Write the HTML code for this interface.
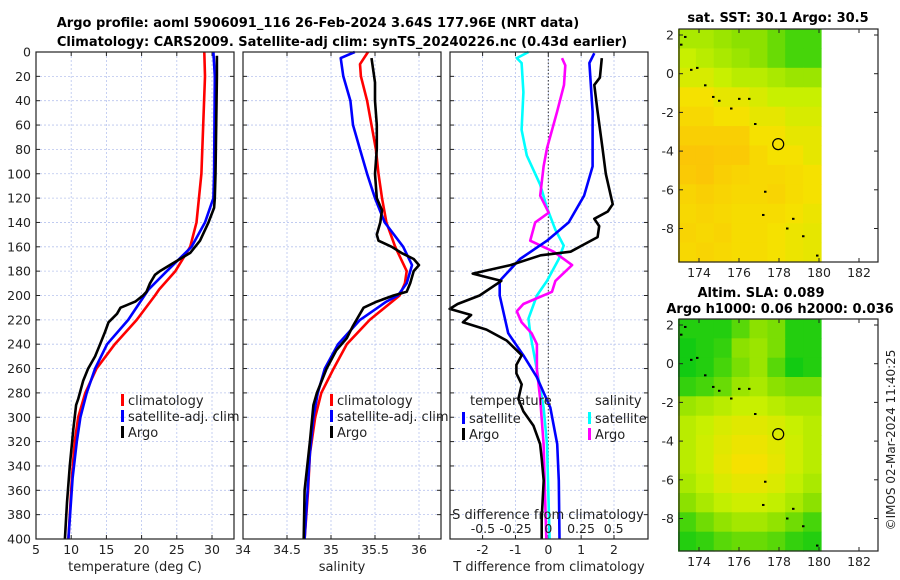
<!DOCTYPE html>
<html><head><meta charset="utf-8">
<style>
html,body{margin:0;padding:0;background:#fff;}
svg{display:block;font-family:"DejaVu Sans","Liberation Sans",sans-serif;}
</style></head>
<body>
<svg id="fig" width="900" height="580" viewBox="0 0 900 580" xmlns="http://www.w3.org/2000/svg">
<text x="318" y="27" font-size="13" font-weight="bold" text-anchor="middle">Argo profile: aoml 5906091_116 26-Feb-2024 3.64S 177.96E (NRT data)</text>
<text x="342" y="46" font-size="13" font-weight="bold" text-anchor="middle">Climatology: CARS2009. Satellite-adj clim: synTS_20240226.nc (0.43d earlier)</text>
<text x="778" y="22" font-size="13" font-weight="bold" text-anchor="middle">sat. SST: 30.1 Argo: 30.5</text>
<text x="761" y="297" font-size="13" font-weight="bold" text-anchor="middle">Altim. SLA: 0.089</text>
<text x="780" y="313" font-size="13" font-weight="bold" text-anchor="middle">Argo h1000: 0.06 h2000: 0.036</text>
<text x="0" y="0" font-size="12" fill="#222" text-anchor="middle" transform="translate(895,440) rotate(-90)">©IMOS 02-Mar-2024 11:40:25</text>
</svg>
<script>
// ---- data ----
const depthTicks=[0,20,40,60,80,100,120,140,160,180,200,220,240,260,280,300,320,340,360,380,400];
const tempTicks=[5,10,15,20,25,30];
const salTicks=[34,34.5,35,35.5,36];
const salTickLabels=["34","34.5","35","35.5","36"];
const tdiffTicks=[-2,-1,0,1,2];
const sdiffTicks=[-0.5,-0.25,0,0.25,0.5];
const sdiffTickLabels=["-0.5","-0.25","0","0.25","0.5"];

const tClimDepth=[0,20,100,140,160,180,195,200,220,240,260,280,300,320,350,400];
const tClimVal=[28.9,29.0,28.5,27.8,26.9,24.8,22.5,21.9,19.3,16.2,13.6,12.0,11.0,10.5,10.1,9.6];
const tSatDepth=[0,20,100,120,140,160,180,195,220,240,260,280,300,320,350,400];
const tSatVal=[30.2,30.4,30.3,30.2,29.0,27.1,23.6,21.0,18.1,15.1,13.4,12.2,11.3,10.8,10.2,9.6];
const tArgoDepth=[3,20,100,120,128,140,155,165,175,180,183,190,197,200,205,210,215,222,230,240,250,260,270,285,290,310,340,370,400];
const tArgoVal=[30.7,30.7,30.5,30.4,30.3,29.5,28.3,26.9,24.0,22.6,21.9,21.2,20.7,20.2,19.1,17.0,16.5,15.3,14.8,14.1,13.4,12.4,11.7,11.0,10.7,10.3,9.8,9.4,9.1];

const sClimDepth=[0,10,20,40,60,80,100,120,140,160,180,190,200,220,240,260,280,300,330,360,400];
const sClimVal=[35.42,35.33,35.34,35.41,35.46,35.51,35.54,35.58,35.63,35.73,35.86,35.84,35.78,35.44,35.18,35.03,34.89,34.82,34.76,34.74,34.70];
const sSatDepth=[0,5,20,40,60,80,100,120,140,160,175,190,200,205,220,240,260,280,300,330,400];
const sSatVal=[35.27,35.11,35.14,35.22,35.25,35.33,35.41,35.50,35.61,35.82,35.92,35.86,35.76,35.63,35.33,35.08,34.93,34.85,34.80,34.76,34.70];
const sArgoDepth=[5,25,40,60,80,100,120,130,140,150,155,160,165,170,175,180,190,197,200,205,210,215,225,235,245,260,280,290,320,360,400];
const sArgoVal=[35.46,35.50,35.50,35.52,35.52,35.50,35.52,35.58,35.56,35.52,35.54,35.69,35.80,35.94,36.0,35.94,35.90,35.86,35.71,35.52,35.37,35.33,35.25,35.18,35.06,34.95,34.84,34.80,34.76,34.70,34.69];

const dtArgoDepth=[5,21,27,49,79,100,125,131,137,143,152,158,164,167,175,182,188,200,207,211,216,222,228,237,249,257,264,273,285,295,307,322,334,352,383,400];
const dtArgoVal=[1.63,1.57,1.4,1.5,1.65,1.75,1.96,1.81,1.4,1.55,1.5,1.09,0.68,-0.23,-1.15,-2.3,-1.43,-2.09,-2.76,-3.0,-2.35,-2.6,-1.88,-1.27,-0.81,-0.97,-0.97,-0.81,-0.91,-0.76,-0.45,-0.25,-0.2,-0.14,-0.2,-0.2];
const dtSatDepth=[1,9,49,94,118,140,155,170,188,200,231,249,267,292,322,352,400];
const dtSatVal=[1.40,1.25,1.35,1.35,1.09,0.62,-0.04,-0.86,-1.48,-1.48,-1.22,-0.76,-0.35,0.06,0.27,0.32,0.34];
const dsSatDepth=[0,5,9,33,64,85,109,128,146,159,170,188,200,219,231,261,292,322,400];
const dsSatVal=[-0.151,-0.241,-0.204,-0.19,-0.204,-0.164,-0.062,-0.01,0.054,0.118,0.08,-0.01,-0.087,-0.151,-0.138,-0.087,-0.036,-0.01,0.01];
const dsArgoDepth=[5,11,27,49,79,94,118,132,140,155,164,175,188,197,207,213,222,231,240,261,285,322,400];
const dsArgoVal=[0.105,0.13,0.12,0.067,-0.01,-0.036,-0.062,0.003,-0.1,-0.138,0.041,0.182,0.054,0.028,-0.19,-0.241,-0.204,-0.128,-0.087,-0.087,-0.062,-0.036,-0.015];

const lonTicks=[174,176,178,180,182];
const latTicks=[2,0,-2,-4,-6,-8];
const sstGrid=[
[0.5,0.5,0.45,0.4,0.4,0.3,0.2,0.2],
[0.6,0.55,0.5,0.45,0.4,0.3,0.2,0.2],
[0.65,0.65,0.6,0.55,0.55,0.5,0.45,0.45],
[0.75,0.75,0.7,0.7,0.65,0.6,0.6,0.6],
[0.8,0.8,0.75,0.75,0.7,0.7,0.65,0.65],
[0.85,0.85,0.85,0.85,0.75,0.75,0.7,0.7],
[0.9,0.9,0.88,0.88,0.8,0.75,0.75,0.7],
[0.88,0.9,0.85,0.82,0.8,0.8,0.78,0.75],
[0.82,0.85,0.82,0.8,0.8,0.82,0.78,0.75],
[0.8,0.82,0.8,0.78,0.78,0.78,0.75,0.72],
[0.82,0.8,0.82,0.78,0.78,0.75,0.72,0.7],
[0.8,0.82,0.8,0.78,0.78,0.75,0.72,0.7]];
const slaGrid=[
[0.1,0.1,0.1,0.25,0.4,0.35,0.1,0.1],
[0.05,0.1,0.15,0.4,0.45,0.35,0.1,0.1],
[0.05,0.1,0.2,0.35,0.45,0.25,0.05,0.1],
[0.15,0.2,0.3,0.45,0.5,0.4,0.35,0.35],
[0.45,0.5,0.55,0.6,0.6,0.55,0.5,0.5],
[0.55,0.6,0.65,0.68,0.68,0.65,0.6,0.55],
[0.55,0.62,0.68,0.72,0.72,0.68,0.62,0.55],
[0.55,0.62,0.7,0.75,0.75,0.7,0.62,0.55],
[0.5,0.58,0.66,0.7,0.7,0.66,0.58,0.5],
[0.4,0.5,0.58,0.62,0.62,0.58,0.5,0.4],
[0.2,0.32,0.42,0.48,0.48,0.42,0.32,0.2],
[0.1,0.15,0.25,0.3,0.3,0.25,0.15,0.1]];
const islandLon=[173.1,173.3,173.6,173.9,174.3,174.7,175.0,175.6,176.0,176.5,176.8,177.3,177.2,178.4,178.7,179.2,179.9];
const islandLat=[1.5,1.9,0.2,0.3,-0.6,-1.2,-1.4,-1.8,-1.3,-1.3,-2.6,-6.1,-7.3,-8.0,-7.5,-8.4,-9.4];
const argoLon=[177.96];
const argoLat=[-3.64];

// ---- drawing ----
const NS="http://www.w3.org/2000/svg";
const svg=document.getElementById('fig');
function mk(tag,attrs,parent){const e=document.createElementNS(NS,tag);for(const k in attrs)e.setAttribute(k,attrs[k]);(parent||svg).appendChild(e);return e;}
const TOP=52,BOT=539;
const yDepth=d=>TOP+d*(BOT-TOP)/400;
function xLin(v0,v1,p0,p1){return v=>p0+(v-v0)*(p1-p0)/(v1-v0);}

const panels=[
 {x0:36,x1:234,sx:xLin(5,30,36,212),ticks:tempTicks,labels:tempTicks.map(String),xlabel:"temperature (deg C)",name:"temperature-panel",ylabels:true},
 {x0:243,x1:441,sx:xLin(34,36,243,419),ticks:salTicks,labels:salTickLabels,xlabel:"salinity",name:"salinity-panel"},
 {x0:450,x1:648,sx:xLin(0,2,548.3,614),ticks:tdiffTicks,labels:tdiffTicks.map(String),xlabel:"T difference from climatology",name:"difference-panel"}
];
panels.forEach(p=>{
 const g=mk('g',{});
 
 
 p.ticks.forEach(t=>{const x=p.sx(t);if(x>p.x0+1&&x<p.x1-1){const l=mk('line',{x1:x,x2:x,y1:TOP,y2:BOT,stroke:'#b8c4ee','stroke-width':0.8,'stroke-dasharray':'2,2'},g);}});
 depthTicks.forEach(d=>{const y=yDepth(d);if(d>0&&d<400){const l=mk('line',{x1:p.x0,x2:p.x1,y1:y,y2:y,stroke:'#b8c4ee','stroke-width':0.8,'stroke-dasharray':'2,2'},g);}
  mk('line',{x1:p.x0,x2:p.x0+4,y1:y,y2:y,stroke:'#222'},g);mk('line',{x1:p.x1,x2:p.x1-4,y1:y,y2:y,stroke:'#222'},g);
  if(p.ylabels){const t=mk('text',{x:p.x0-5,y:y+4.5,'font-size':12.5,'text-anchor':'end',fill:'#222'},g);t.textContent=d;}
 });
 p.ticks.forEach((t,i)=>{const x=p.sx(t);mk('line',{x1:x,x2:x,y1:BOT,y2:BOT-4,stroke:'#222'},g);mk('line',{x1:x,x2:x,y1:TOP,y2:TOP+4,stroke:'#222'},g);
  const tx=mk('text',{x:x,y:BOT+15,'font-size':12.5,'text-anchor':'middle',fill:'#222'},g);tx.textContent=p.labels[i];});
 const xl=mk('text',{x:(p.x0+p.x1)/2,y:BOT+32,'font-size':13,'text-anchor':'middle',fill:'#222'},g);xl.textContent=p.xlabel;
 
 p.g=g;
});
function line(p,sx,ds,vs,color,name,w){
 const pts=ds.map((d,i)=>sx(vs[i]).toFixed(1)+','+yDepth(d).toFixed(1)).join(' ');
 const e=mk('polyline',{points:pts,fill:'none',stroke:color,'stroke-width':w||2.6,'stroke-linejoin':'round'},p.g);
 
}
const zx=panels[2].sx(0);
const zl=mk('line',{x1:zx,x2:zx,y1:TOP,y2:BOT,stroke:'#333','stroke-width':1,'stroke-dasharray':'1.5,2'},panels[2].g);


line(panels[0],panels[0].sx,tClimDepth,tClimVal,'#ff0000','temp-climatology-line');
line(panels[0],panels[0].sx,tSatDepth,tSatVal,'#0000ff','temp-satellite-line');
line(panels[0],panels[0].sx,tArgoDepth,tArgoVal,'#000','temp-argo-line');
line(panels[1],panels[1].sx,sClimDepth,sClimVal,'#ff0000','sal-climatology-line');
line(panels[1],panels[1].sx,sSatDepth,sSatVal,'#0000ff','sal-satellite-line');
line(panels[1],panels[1].sx,sArgoDepth,sArgoVal,'#000','sal-argo-line');
const sxS=xLin(0,0.25,548.3,581);
line(panels[2],sxS,dsSatDepth,dsSatVal,'#00ffff','sdiff-satellite-line');
line(panels[2],sxS,dsArgoDepth,dsArgoVal,'#ff00ff','sdiff-argo-line');
line(panels[2],panels[2].sx,dtSatDepth,dtSatVal,'#0000ff','tdiff-satellite-line');
line(panels[2],panels[2].sx,dtArgoDepth,dtArgoVal,'#000','tdiff-argo-line');

const sl=mk('text',{x:548,y:519,'font-size':13,'text-anchor':'middle',fill:'#222'});sl.textContent='S difference from climatology';

sdiffTicks.forEach((s,i)=>{const t=mk('text',{x:sxS(s),y:533,'font-size':12.5,'text-anchor':'middle',fill:'#222'});t.textContent=sdiffTickLabels[i];
 });

panels.forEach(p=>{const r=mk('rect',{x:p.x0,y:TOP,width:p.x1-p.x0,height:BOT-TOP,fill:'none',stroke:'#222','stroke-width':1.2});});

function legItem(x,y,color,label,name){
 const g=mk('g',{});
 mk('rect',{x:x,y:y-10,width:3,height:12,fill:color},g);
 const t=mk('text',{x:x+7,y:y+1,'font-size':13,fill:'#222'},g);t.textContent=label;
}
legItem(121,404,'#ff0000','climatology','legend-climatology');
legItem(121,420,'#0000ff','satellite-adj. clim','legend-satellite-adj');
legItem(121,436,'#000','Argo','legend-argo');
legItem(330,404,'#ff0000','climatology','legend-climatology-sal');
legItem(330,420,'#0000ff','satellite-adj. clim','legend-satellite-adj-sal');
legItem(330,436,'#000','Argo','legend-argo-sal');
let th=mk('text',{x:470,y:405,'font-size':13,fill:'#222'});th.textContent='temperature';
let sh=mk('text',{x:595,y:405,'font-size':13,fill:'#222'});sh.textContent='salinity';
legItem(462,422,'#0000ff','satellite','legend-t-satellite');
legItem(462,438,'#000','Argo','legend-t-argo');
legItem(588,422,'#00ffff','satellite','legend-s-satellite');
legItem(588,438,'#ff00ff','Argo','legend-s-argo');

function cmap(v){
 const stops=[[0,[0,200,20]],[0.4,[140,225,0]],[0.6,[200,240,0]],[0.75,[245,225,0]],[1,[255,180,10]]];
 for(let i=1;i<stops.length;i++){if(v<=stops[i][0]){const a=stops[i-1],b=stops[i];const f=(v-a[0])/(b[0]-a[0]);
  return 'rgb('+a[1].map((c,j)=>Math.round(c+f*(b[1][j]-c))).join(',')+')';}}
 return 'rgb(255,180,10)';
}
function drawMap(top,bot,grid,name){
 const g=mk('g',{});
 const x0=679,x1=878;const lonX=xLin(174,182,699,859);
 const latY=xLin(2,-8,top+6,top+6+193.5);
 const lonA=172.95,lonB=180.1;
 const rows=grid.length,cols=grid[0].length;
 const cw=(lonX(lonB)-lonX(lonA))/cols, ch=(bot-top)/rows;
 grid.forEach((row,r)=>row.forEach((v,c)=>{
  const cell=mk('rect',{x:(lonX(lonA)+c*cw).toFixed(1),y:(top+r*ch).toFixed(1),width:(cw+0.6).toFixed(1),height:(ch+0.6).toFixed(1),fill:cmap(v)},g);
  
 }));
 islandLon.forEach((lo,i)=>{const d=mk('rect',{x:lonX(lo)-1,y:latY(islandLat[i])-1,width:2.5,height:2,fill:'#000'},g);});
 argoLon.forEach((lo,i)=>{const c=mk('circle',{cx:lonX(lo),cy:latY(argoLat[i]),r:5.5,fill:'none',stroke:'#000','stroke-width':1.2},g);});
 const fr=mk('rect',{x:x0,y:top,width:x1-x0,height:bot-top,fill:'none',stroke:'#222','stroke-width':1.2},g);
 
 lonTicks.forEach(lo=>{const x=lonX(lo);mk('line',{x1:x,x2:x,y1:bot,y2:bot-4,stroke:'#222'},g);mk('line',{x1:x,x2:x,y1:top,y2:top+4,stroke:'#222'},g);
  const t=mk('text',{x:x,y:bot+15,'font-size':12.5,'text-anchor':'middle',fill:'#222'},g);t.textContent=lo;});
 latTicks.forEach(la=>{const y=latY(la);mk('line',{x1:x0,x2:x0+4,y1:y,y2:y,stroke:'#222'},g);mk('line',{x1:x1,x2:x1-4,y1:y,y2:y,stroke:'#222'},g);
  const t=mk('text',{x:x0-5,y:y+4.5,'font-size':12.5,'text-anchor':'end',fill:'#222'},g);t.textContent=la;});
}
drawMap(29,262,sstGrid,'sst-map');
drawMap(319,551,slaGrid,'sla-map');
</script>
</body></html>
